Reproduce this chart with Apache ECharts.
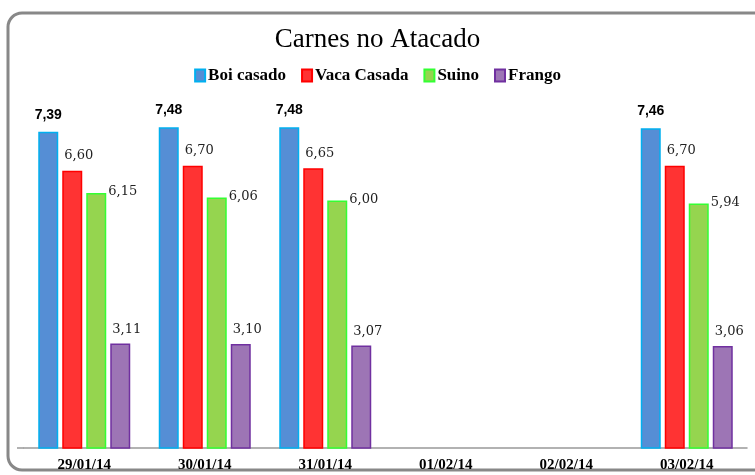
<!DOCTYPE html>
<html>
<head>
<meta charset="utf-8">
<script src="https://cdn.jsdelivr.net/npm/echarts@6/dist/echarts.min.js"></script>
<style>
html,body{margin:0;padding:0;background:#fff;}
#chart{width:755px;height:475px;}
</style>
</head>
<body>
<div id="chart"></div>
<script>
const categories = ['29/01/14', '30/01/14', '31/01/14', '01/02/14', '02/02/14', '03/02/14'];
const boiCasado = [7.39, 7.48, 7.48, null, null, 7.46];
const vacaCasada = [6.60, 6.70, 6.65, null, null, 6.70];
const suino = [6.15, 6.06, 6.00, null, null, 5.94];
const frango = [3.11, 3.10, 3.07, null, null, 3.06];
const seriesNames = ['Boi casado', 'Vaca Casada', 'Suino', 'Frango'];

const fmt = p => p.value == null ? '' : p.value.toFixed(2).replace('.', ',');
const serifLabel = {
  fontFamily: 'DejaVu Serif', fontSize: 13, color: '#222', align: 'left', verticalAlign: 'middle'
};

const chart = echarts.init(document.getElementById('chart'));
chart.setOption({
  animation: false,
  graphic: [{
    type: 'rect', z: -10,
    shape: { x: 8, y: 13, width: 800, height: 457, r: 14 },
    style: { fill: '#fff', stroke: '#888', lineWidth: 3 }
  }, {
    type: 'line', z: -5,
    shape: { x1: 17, y1: 448, x2: 24, y2: 448 },
    style: { stroke: '#999', lineWidth: 1.5 }
  }],
  title: {
    text: 'Carnes no Atacado', left: 'center', top: 21,
    textStyle: { fontFamily: 'Liberation Serif', fontSize: 27, fontWeight: 'normal', color: '#000' }
  },
  legend: {
    top: 62, left: 'center', icon: 'rect', itemWidth: 10, itemHeight: 12, itemGap: 15,
    data: seriesNames,
    textStyle: { fontFamily: 'Liberation Serif', fontWeight: 'bold', fontSize: 17, color: '#000', padding: [0, 0, 0, -2] }
  },
  grid: { left: 24, width: 723, top: 101.5, height: 346.5 },
  xAxis: {
    type: 'category', data: categories,
    axisLine: { lineStyle: { color: '#999', width: 1.5 } },
    axisTick: { show: false },
    axisLabel: { fontFamily: 'Liberation Serif', fontWeight: 'bold', fontSize: 15, color: '#000', margin: 10 }
  },
  yAxis: {
    type: 'value', min: 1, max: 8, show: false, splitLine: { show: false }
  },
  series: [
    {
      name: 'Boi casado', type: 'bar', data: boiCasado, barWidth: 20, barGap: '20%',
      itemStyle: { color: '#558ED5', borderColor: '#00B0F0', borderWidth: 1.5 },
      label: { show: true, position: 'top', distance: 5, offset: [0, -5], formatter: fmt,
        fontFamily: 'Liberation Sans', fontWeight: 'bold', fontSize: 14, color: '#000' }
    },
    {
      name: 'Vaca Casada', type: 'bar', data: vacaCasada, barWidth: 20,
      itemStyle: { color: '#FF3333', borderColor: '#FF0000', borderWidth: 1.5 },
      label: Object.assign({ show: true, position: [2, -15], formatter: fmt }, serifLabel)
    },
    {
      name: 'Suino', type: 'bar', data: suino, barWidth: 20,
      itemStyle: { color: '#95D54F', borderColor: '#33FF33', borderWidth: 1.5 },
      label: Object.assign({ show: true, position: [22, -1], formatter: fmt }, serifLabel)
    },
    {
      name: 'Frango', type: 'bar', data: frango, barWidth: 20,
      itemStyle: { color: '#9D75B5', borderColor: '#7030A0', borderWidth: 1.5 },
      label: Object.assign({ show: true, position: [2, -14], formatter: fmt }, serifLabel)
    }
  ]
});
</script>
</body>
</html>
